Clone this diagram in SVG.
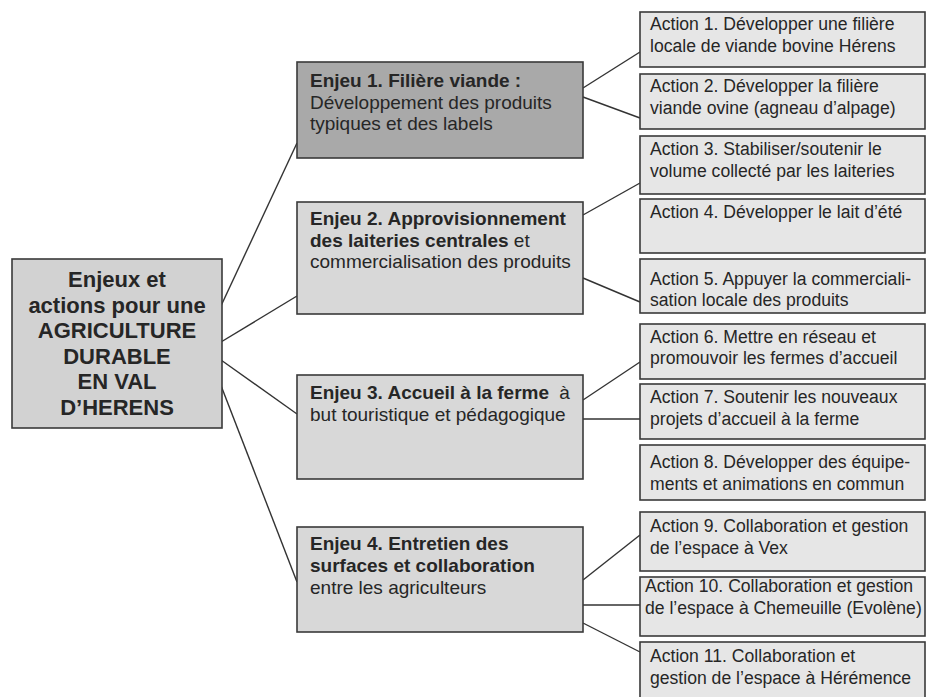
<svg xmlns="http://www.w3.org/2000/svg" width="926" height="697" viewBox="0 0 926 697">
<style>
.box{stroke:#3a3a3a;stroke-width:1.6}
.main{fill:#d2d2d2}
.e1{fill:#a9a9a9}
.e{fill:#d8d8d8}
.a{fill:#e6e6e6}
.conn line{stroke:#333;stroke-width:1.4}
text{font-family:"Liberation Sans",Arial,sans-serif;fill:#262626}
.mt{font-size:22px;font-weight:bold;text-anchor:middle}
.et{font-size:19px}
.at{font-size:17.6px}
.b{font-weight:bold}
</style>
<rect width="926" height="697" fill="#ffffff"/>
<g id="connectors" class="conn">
<line x1="220" y1="308" x2="297" y2="143"/>
<line x1="221" y1="342" x2="297" y2="296"/>
<line x1="221" y1="360" x2="297" y2="414"/>
<line x1="220" y1="383" x2="297" y2="582"/>
<line x1="583" y1="88" x2="640" y2="52"/>
<line x1="583" y1="97" x2="640" y2="118"/>
<line x1="583" y1="215" x2="640" y2="183"/>
<line x1="583" y1="278" x2="640" y2="302"/>
<line x1="583" y1="400" x2="640" y2="362"/>
<line x1="583" y1="419" x2="640" y2="419"/>
<line x1="583" y1="580" x2="640" y2="535"/>
<line x1="583" y1="605" x2="640" y2="605"/>
<line x1="583" y1="623" x2="640" y2="652"/>
</g>
<g id="main">
<rect class="box main" x="12" y="259" width="210" height="169"/>
<text class="mt"><tspan x="117" y="287">Enjeux et</tspan><tspan x="117" y="312.5">actions pour une</tspan><tspan x="117" y="338">AGRICULTURE</tspan><tspan x="117" y="363.5">DURABLE</tspan><tspan x="117" y="389">EN VAL</tspan><tspan x="117" y="414.5">D’HERENS</tspan></text>
</g>
<g id="enjeu1">
<rect class="box e1" x="297" y="62" width="286" height="96"/>
<text class="et"><tspan x="310" y="87" class="b">Enjeu 1. Filière viande :</tspan><tspan x="310" y="108.5">Développement des produits</tspan><tspan x="310" y="130">typiques et des labels</tspan></text>
</g>
<g id="enjeu2">
<rect class="box e" x="297" y="202" width="286" height="112"/>
<text class="et"><tspan x="310" y="225" class="b">Enjeu 2. Approvisionnement</tspan><tspan x="310" y="247" class="b">des laiteries centrales</tspan><tspan> et</tspan><tspan x="310" y="268">commercialisation des produits</tspan></text>
</g>
<g id="enjeu3">
<rect class="box e" x="297" y="375" width="286" height="104"/>
<text class="et"><tspan x="310" y="399" class="b">Enjeu 3. Accueil à la ferme</tspan><tspan dx="5"> à</tspan><tspan x="310" y="421">but touristique et pédagogique</tspan></text>
</g>
<g id="enjeu4">
<rect class="box e" x="297" y="527" width="286" height="105"/>
<text class="et"><tspan x="310" y="550" class="b">Enjeu 4. Entretien des</tspan><tspan x="310" y="572" class="b">surfaces et collaboration</tspan><tspan x="310" y="594">entre les agriculteurs</tspan></text>
</g>
<g id="action1">
<rect class="box a" x="640" y="12" width="285" height="55"/>
<text class="at"><tspan x="650" y="30">Action 1. Développer une filière</tspan><tspan x="650" y="52">locale de viande bovine Hérens</tspan></text>
</g>
<g id="action2">
<rect class="box a" x="640" y="74" width="285" height="55"/>
<text class="at"><tspan x="650" y="92">Action 2. Développer la filière</tspan><tspan x="650" y="114">viande ovine (agneau d’alpage)</tspan></text>
</g>
<g id="action3">
<rect class="box a" x="640" y="136" width="285" height="58"/>
<text class="at"><tspan x="650" y="155">Action 3. Stabiliser/soutenir le</tspan><tspan x="650" y="177">volume collecté par les laiteries</tspan></text>
</g>
<g id="action4">
<rect class="box a" x="640" y="199" width="285" height="54"/>
<text class="at"><tspan x="650" y="218">Action 4. Développer le lait d’été</tspan></text>
</g>
<g id="action5">
<rect class="box a" x="640" y="259" width="285" height="54"/>
<text class="at"><tspan x="650" y="285">Action 5. Appuyer la commerciali-</tspan><tspan x="650" y="306">sation locale des produits</tspan></text>
</g>
<g id="action6">
<rect class="box a" x="640" y="324" width="285" height="55"/>
<text class="at"><tspan x="650" y="343">Action 6. Mettre en réseau et</tspan><tspan x="650" y="364">promouvoir les fermes d’accueil</tspan></text>
</g>
<g id="action7">
<rect class="box a" x="640" y="384" width="285" height="55"/>
<text class="at"><tspan x="650" y="403">Action 7. Soutenir les nouveaux</tspan><tspan x="650" y="425">projets d’accueil à la ferme</tspan></text>
</g>
<g id="action8">
<rect class="box a" x="640" y="445" width="285" height="55"/>
<text class="at"><tspan x="650" y="468">Action 8. Développer des équipe-</tspan><tspan x="650" y="490">ments et animations en commun</tspan></text>
</g>
<g id="action9">
<rect class="box a" x="640" y="512" width="285" height="59"/>
<text class="at"><tspan x="650" y="532">Action 9. Collaboration et gestion</tspan><tspan x="650" y="554">de l’espace à Vex</tspan></text>
</g>
<g id="action10">
<rect class="box a" x="640" y="577" width="285" height="59"/>
<text class="at"><tspan x="645" y="592">Action 10. Collaboration et gestion</tspan><tspan x="645" y="614">de l’espace à Chemeuille (Evolène)</tspan></text>
</g>
<g id="action11">
<rect class="box a" x="640" y="642" width="285" height="60"/>
<text class="at"><tspan x="650" y="662">Action 11. Collaboration et</tspan><tspan x="650" y="684">gestion de l’espace à Hérémence</tspan></text>
</g>
</svg>
